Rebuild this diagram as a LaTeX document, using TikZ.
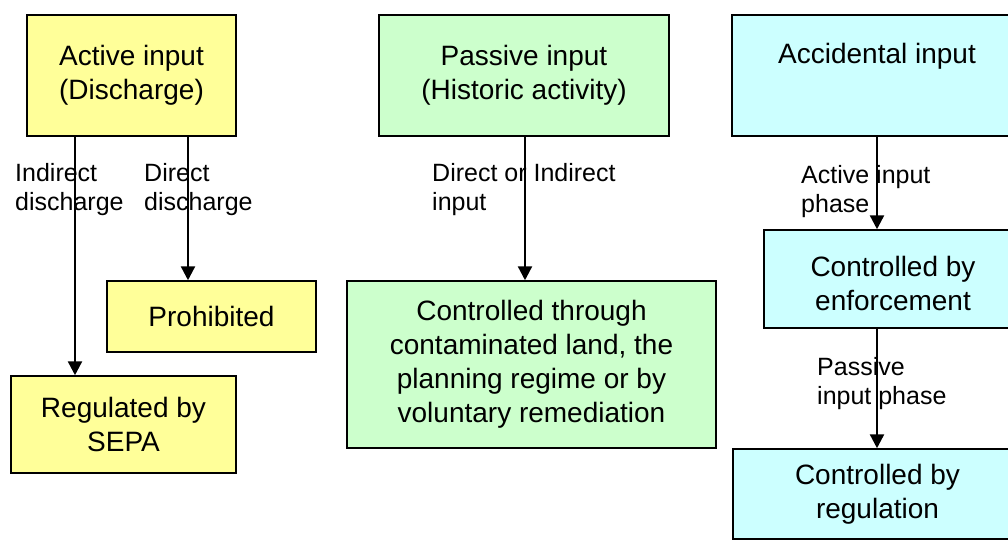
\documentclass[tikz,border=0pt]{standalone}
\usepackage{fontspec}
\setmainfont{Liberation Sans}
\usetikzlibrary{arrows.meta}
\definecolor{byel}{HTML}{FFFF99}
\definecolor{bgrn}{HTML}{CCFFCC}
\definecolor{bcyn}{HTML}{CCFFFF}
\begin{document}
\begin{tikzpicture}[x=1pt,y=-1pt,
 box/.style={draw=black, line width=1.5pt, rectangle, inner sep=0pt, align=center, font=\fontsize{28}{34}\selectfont},
 lbl/.style={anchor=north west, inner sep=0pt, align=left, font=\fontsize{25}{29}\selectfont},
 arr/.style={line width=2.4pt, -{Triangle[length=14pt,width=14pt]}}]
\useasboundingbox (0,0) rectangle (1008,540);
\clip (0,0) rectangle (1008,540);
\fill[white] (0,0) rectangle (1008,540);
% column 1
\node[box, fill=byel, minimum width=209pt, minimum height=121pt] (act) at (131.5,75.5) {Active input\\(Discharge)};
\node[box, fill=byel, minimum width=209pt, minimum height=71pt] (proh) at (211.5,316.5) {Prohibited};
\node[box, fill=byel, minimum width=225pt, minimum height=97pt] (reg) at (123.5,424.5) {Regulated by\\SEPA};
% column 2
\node[box, fill=bgrn, minimum width=290pt, minimum height=121pt] (pas) at (524,75.5) {Passive input\\(Historic activity)};
\node[box, fill=bgrn, minimum width=369pt, minimum height=167pt] (ctl) at (531.5,364.5) {Controlled through\\contaminated land, the\\planning regime or by\\voluntary remediation};
% column 3
\node[box, fill=bcyn, minimum width=290pt, minimum height=121pt] (acc) at (877,75.5) {Accidental input\\\strut};
\node[box, fill=bcyn, minimum width=258pt, minimum height=98pt] (enf) at (893,279) {\rule{0pt}{30pt}Controlled by\\enforcement};
\node[box, fill=bcyn, minimum width=289pt, minimum height=90pt] (rgl) at (877.5,494) {Controlled by\\regulation};
% labels
\node[lbl] (l1) at (15,163) {Indirect\\discharge};
\node[lbl] (l2) at (144,163) {Direct\\discharge};
\node[lbl] (l3) at (432,163) {Direct or Indirect\\input};
\node[lbl] (l4) at (801,165) {Active input\\phase};
\node[lbl] (l5) at (817,357) {Passive\\input phase};
% arrows
\draw[arr] ([xshift=-56.5pt]act.south) -- ([xshift=-48.5pt]reg.north);
\draw[arr] ([xshift=56.5pt]act.south) -- ([xshift=-23.5pt]proh.north);
\draw[arr] ([xshift=1pt]pas.south) -- ([xshift=1pt]pas.south |- ctl.north);
\draw[arr] (acc.south) -- (acc.south |- enf.north);
\draw[arr] (enf.south -| acc.south) -- (acc.south |- rgl.north);
\end{tikzpicture}
\end{document}
